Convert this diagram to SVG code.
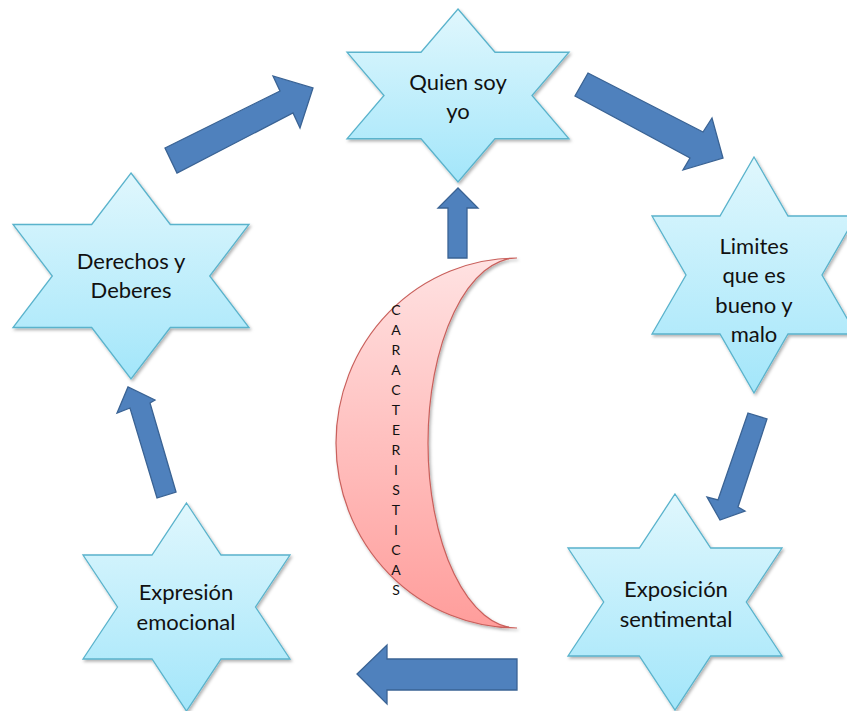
<svg xmlns="http://www.w3.org/2000/svg" width="847" height="711" viewBox="0 0 847 711">
<defs>
<linearGradient id="starFill" x1="0" y1="0" x2="0" y2="1">
<stop offset="0" stop-color="#e0f7fd"/>
<stop offset="1" stop-color="#a3e6fa"/>
</linearGradient>
<linearGradient id="moonFill" x1="0" y1="0" x2="0" y2="1">
<stop offset="0" stop-color="#ffe2e2"/>
<stop offset="1" stop-color="#ff9d9b"/>
</linearGradient>
<filter id="shadow" x="-10%" y="-10%" width="125%" height="125%">
<feDropShadow dx="1.5" dy="2" stdDeviation="1.5" flood-color="#000" flood-opacity="0.3"/>
</filter>
</defs>
<style>
.star{fill:url(#starFill);stroke:#5ab3cc;stroke-width:1.3;filter:url(#shadow)}
.arrow{fill:#4f81bd;stroke:#3a6394;stroke-width:1.3}
.moon{fill:url(#moonFill);stroke:#c9605c;stroke-width:1.2;filter:url(#shadow)}
.lbl{font-family:Lato,"Liberation Sans",sans-serif;font-size:22px;fill:#111;text-anchor:middle}
.vert{font-family:Lato,"Liberation Sans",sans-serif;font-size:14px;fill:#111;text-anchor:middle}
</style>
<rect width="847" height="711" fill="#fff"/>

<g id="connectors">
<polygon class="arrow" points="165,148 280,91 273,76 313,88 300,128 293,113 177,173"/>
<polygon class="arrow" points="588,73 703,132 712,118 723,158 683,170 690,158 575,96"/>
<polygon class="arrow" points="748,413 767,419 738,507 745,511 720,520 707,497 718,500"/>
<polygon class="arrow" points="517,659 387,659 387,645 357,674 387,704 387,690 517,690"/>
<polygon class="arrow" points="176,492 150,403 155,400 128,387 117,413 130,408 157,498"/>
<polygon class="arrow" points="448,258 448,208 438,208 458,188 478,208 467,208 467,258"/>
</g>

<g id="quien">
<polygon class="star" points="458,9 495,52.25 569,52.25 532,95.5 569,138.75 495,138.75 458,182 421,138.75 347,138.75 384,95.5 347,52.25 421,52.25"/>
<text class="lbl" x="458" y="90">Quien soy</text>
<text class="lbl" x="458" y="119">yo</text>
</g>

<g id="limites">
<polygon class="star" points="754,157 788,216 856,216 822,275 856,334 788,334 754,393 720,334 652,334 686,275 652,216 720,216"/>
<text class="lbl" x="754" y="254">Limites</text>
<text class="lbl" x="754" y="283">que es</text>
<text class="lbl" x="754" y="313">bueno y</text>
<text class="lbl" x="754" y="342">malo</text>
</g>

<g id="exposicion">
<polygon class="star" points="675,494 710.7,548 782,548 746.3,602 782,656 710.7,656 675,710 639.3,656 568,656 603.7,602 568,548 639.3,548"/>
<text class="lbl" x="676" y="597">Exposición</text>
<text class="lbl" x="676" y="627">sentimental</text>
</g>

<g id="expresion">
<polygon class="star" points="186.5,503 221,555 290,555 255.5,607 290,659 221,659 186.5,711 152,659 83,659 117.5,607 83,555 152,555"/>
<text class="lbl" x="186" y="600">Expresión</text>
<text class="lbl" x="186" y="630">emocional</text>
</g>

<g id="derechos">
<polygon class="star" points="131,173 170.3,224.5 249,224.5 209.7,276 249,327.5 170.3,327.5 131,379 91.7,327.5 13,327.5 52.3,276 13,224.5 91.7,224.5"/>
<text class="lbl" x="131" y="269">Derechos y</text>
<text class="lbl" x="131" y="298">Deberes</text>
</g>

<g id="caracteristicas">
<path class="moon" d="M517,258 A181,185 0 0,0 517,628 A89,185 0 0,1 517,258 Z"/>
<text class="vert" x="396" y="315">C</text>
<text class="vert" x="396" y="335">A</text>
<text class="vert" x="396" y="355">R</text>
<text class="vert" x="396" y="375">A</text>
<text class="vert" x="396" y="395">C</text>
<text class="vert" x="396" y="415">T</text>
<text class="vert" x="396" y="435">E</text>
<text class="vert" x="396" y="455">R</text>
<text class="vert" x="396" y="475">I</text>
<text class="vert" x="396" y="495">S</text>
<text class="vert" x="396" y="515">T</text>
<text class="vert" x="396" y="535">I</text>
<text class="vert" x="396" y="555">C</text>
<text class="vert" x="396" y="575">A</text>
<text class="vert" x="396" y="595">S</text>
</g>
</svg>
